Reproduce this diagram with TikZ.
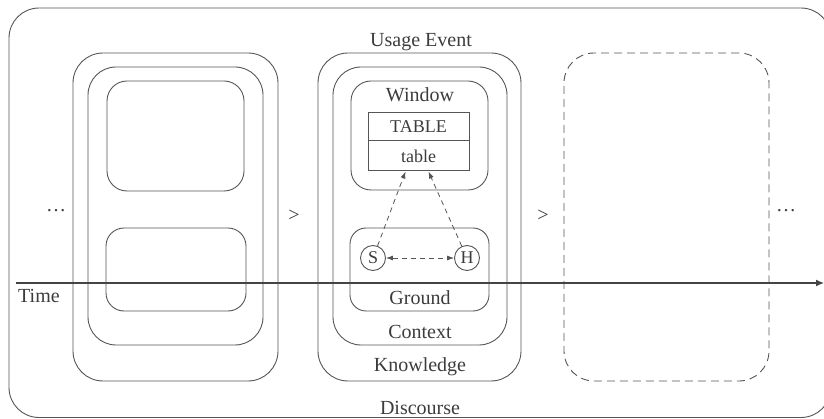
\documentclass[tikz,border=0pt]{standalone}
\usepackage{fontspec}
\setmainfont{Liberation Serif}
\usetikzlibrary{arrows.meta,calc}

\definecolor{linegray}{HTML}{555555}
\definecolor{textgray}{HTML}{3C3C3C}

\tikzset{
  frame/.style={draw=linegray, line width=0.9pt, inner sep=0pt},
  dashframe/.style={frame, dash pattern=on 8pt off 5pt},
  lbl/.style={text=textgray, inner sep=0pt, font=\fontsize{20}{24}\selectfont},
  small/.style={text=textgray, inner sep=0pt, font=\fontsize{18}{22}\selectfont},
  party/.style={circle, draw=linegray, line width=0.9pt, minimum size=25pt, inner sep=0pt,
                text=textgray, font=\fontsize{18}{20}\selectfont},
  cell/.style={draw=linegray, line width=1pt, minimum width=101pt, inner sep=0pt},
  link/.style={draw=linegray, line width=0.8pt, dash pattern=on 5pt off 4pt,
               -{Latex[length=7pt,width=5pt]}},
  timeline/.style={draw=linegray!80!black, line width=1.3pt, -{Latex[length=8pt,width=7pt]}}
}

\begin{document}
\begin{tikzpicture}[x=1pt,y=-1pt]
\useasboundingbox (0,0) rectangle (824,419);
\begin{scope}
\clip (0,0) rectangle (824,419);

% discourse frame, running past the right edge
\node[frame, rounded corners=30pt, minimum width=822pt, minimum height=409.5pt] (discourse) at (420,212.75) {};

% previous usage event
\node[frame, rounded corners=30pt, minimum width=205pt, minimum height=328pt] (prevK) at (175.5,217) {};
\node[frame, rounded corners=28pt, minimum width=175pt, minimum height=278pt] (prevC) at (175.5,206) {};
\node[frame, rounded corners=20pt, minimum width=137pt, minimum height=110pt] (prevW) at (175.5,136) {};
\node[frame, rounded corners=18pt, minimum width=140pt, minimum height=83pt] (prevG) at (176,269.5) {};

% current usage event
\node[frame, rounded corners=30pt, minimum width=203pt, minimum height=328pt] (knowledge) at (419.5,217) {};
\node[frame, rounded corners=28pt, minimum width=174pt, minimum height=278pt] (context) at (420,206) {};
\node[frame, rounded corners=20pt, minimum width=137pt, minimum height=109pt] (window) at (419.5,135.5) {};
\node[frame, rounded corners=16pt, minimum width=139pt, minimum height=83pt] (ground) at (419.5,269.5) {};

% next usage event
\node[dashframe, rounded corners=30pt, minimum width=205pt, minimum height=328pt] (next) at (666.5,217) {};

% time axis
\coordinate (tstart) at (16,283);
\coordinate (tend) at (824,283);
\draw[timeline] (tstart) -- (tend);
\node[lbl, anchor=west] (time) at (18,296) {Time};

% labels
\node[lbl] (usage) at (421,42) {Usage Event};
\node[lbl] (wlabel) at (420,95) {Window};
\node[lbl] (glabel) at (420,298) {Ground};
\node[lbl] (clabel) at (420,332) {Context};
\node[lbl] (klabel) at (420,367) {Knowledge};
\node[lbl] (dlabel) at (420,408) {Discourse};

\node[lbl] (dotsL) at (56,211) {\dots};
\node[lbl] (gt1) at (294,216) {>};
\node[lbl] (gt2) at (543,216) {>};
\node[lbl] (dotsR) at (786,211) {\dots};

% word form and meaning
\node[cell, minimum height=28pt, small] (tableU) at (418.5,127) {TABLE};
\node[cell, minimum height=30pt, small] (tableL) at (418.5,156) {table};

% speaker and hearer
\node[party] (S) at (373,258) {S};
\node[party] (H) at (467,258) {H};
\draw[link, {Latex[length=7pt,width=5pt]}-{Latex[length=7pt,width=5pt]}] (S) -- (H);
\draw[link] (S) -- ([xshift=-13pt]tableL.south);
\draw[link] (H) -- ([xshift=10pt]tableL.south);
\end{scope}
\end{tikzpicture}
\end{document}
